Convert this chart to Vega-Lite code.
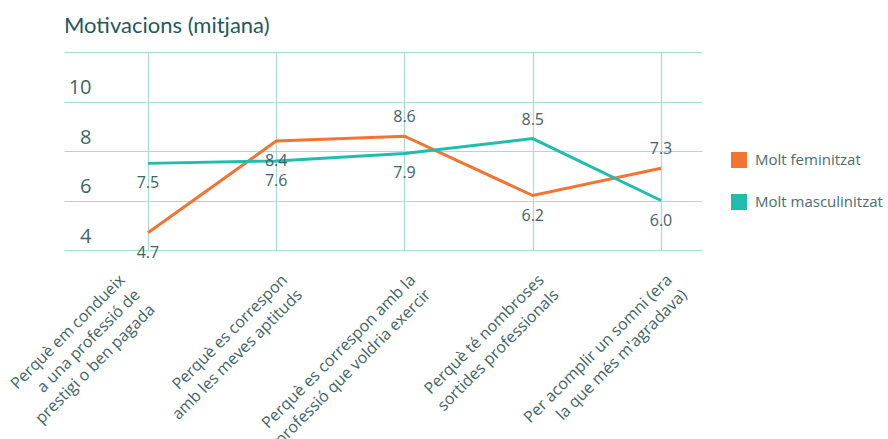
{
  "$schema": "https://vega.github.io/schema/vega-lite/v6.json",
  "width": 638,
  "height": 198,
  "autosize": {"type": "none"},
  "padding": {"left": 64, "top": 52, "right": 186, "bottom": 189},
  "title": {
    "text": "Motivacions (mitjana)",
    "anchor": "start",
    "frame": "group",
    "fontSize": 22,
    "fontWeight": "normal",
    "font": "Lato",
    "color": "#1E5A5C",
    "offset": 14
  },
  "data": {
    "values": [
      {"q": "Perquè em condueix|a una professió de|prestigi o ben pagada", "s": "Molt feminitzat", "v": 4.7},
      {"q": "Perquè es correspon|amb les meves aptituds", "s": "Molt feminitzat", "v": 8.4},
      {"q": "Perquè es correspon amb la|professió que voldria exercir", "s": "Molt feminitzat", "v": 8.6},
      {"q": "Perquè té nombroses|sortides professionals", "s": "Molt feminitzat", "v": 6.2},
      {"q": "Per acomplir un somni (era|la que més m'agradava)", "s": "Molt feminitzat", "v": 7.3},
      {"q": "Perquè em condueix|a una professió de|prestigi o ben pagada", "s": "Molt masculinitzat", "v": 7.5},
      {"q": "Perquè es correspon|amb les meves aptituds", "s": "Molt masculinitzat", "v": 7.6},
      {"q": "Perquè es correspon amb la|professió que voldria exercir", "s": "Molt masculinitzat", "v": 7.9},
      {"q": "Perquè té nombroses|sortides professionals", "s": "Molt masculinitzat", "v": 8.5},
      {"q": "Per acomplir un somni (era|la que més m'agradava)", "s": "Molt masculinitzat", "v": 6.0}
    ]
  },
  "encoding": {
    "x": {
      "field": "q",
      "type": "ordinal",
      "sort": null,
      "scale": {"type": "point", "padding": 0.487, "align": 0.672},
      "axis": {
        "title": null,
        "grid": true,
        "gridColor": "#A6DCD4",
        "gridWidth": 1.2,
        "domain": false,
        "ticks": false,
        "labelAngle": -45,
        "labelAlign": "right",
        "labelBaseline": "middle",
        "labelPadding": 27,
        "labelOffset": {"condition": {"test": "indexof(datum.value, 'condueix') >= 0", "value": -26}, "value": 8},
        "labelFontSize": 16,
        "labelFont": "Open Sans",
        "labelColor": "#3F6467",
        "labelLineHeight": 21,
        "labelExpr": "split(datum.label, '|')",
        "labelLimit": 400
      }
    },
    "y": {
      "field": "v",
      "type": "quantitative",
      "scale": {"domain": [4, 12], "nice": false, "zero": false},
      "axis": {
        "title": null,
        "values": [4, 6, 8, 10, 12],
        "grid": true,
        "gridColor": "#A6DCD4",
        "gridWidth": 1.2,
        "domain": false,
        "ticks": false,
        "labelAlign": "right",
        "labelBaseline": "middle",
        "labelPadding": -27,
        "labelOffset": -14,
        "labelFontSize": 20,
        "labelFont": "Open Sans",
        "labelColor": "#3F6467",
        "labelExpr": "datum.value == 12 ? '' : datum.label"
      }
    },
    "color": {
      "field": "s",
      "type": "nominal",
      "scale": {"domain": ["Molt feminitzat", "Molt masculinitzat"], "range": ["#F37331", "#20BDAE"]},
      "legend": {
        "title": null,
        "orient": "none",
        "legendX": 667,
        "legendY": 100,
        "symbolType": "square",
        "symbolSize": 256,
        "symbolStrokeWidth": 0,
        "symbolOpacity": 1,
        "labelFontSize": 15,
        "labelFont": "Open Sans",
        "labelColor": "#4A6D70",
        "labelOffset": 8,
        "rowPadding": 26,
        "encode": {
          "symbols": {"update": {"fill": {"scale": "color", "field": "value"}, "fillOpacity": {"value": 1}}}
        }
      }
    }
  },
  "layer": [
    {"mark": {"type": "line", "strokeWidth": 3}},
    {
      "transform": [{"filter": "(datum.s == 'Molt feminitzat' && (datum.v == 8.6 || datum.v == 7.3)) || (datum.s == 'Molt masculinitzat' && datum.v == 8.5)"}],
      "mark": {"type": "text", "dy": -19, "fontSize": 16, "font": "Open Sans", "color": "#3F6467"},
      "encoding": {"text": {"field": "v", "type": "quantitative", "format": ".1f"}, "color": {"value": "#3F6467"}}
    },
    {
      "transform": [{"filter": "!((datum.s == 'Molt feminitzat' && (datum.v == 8.6 || datum.v == 7.3)) || (datum.s == 'Molt masculinitzat' && datum.v == 8.5))"}],
      "mark": {"type": "text", "dy": 20, "fontSize": 16, "font": "Open Sans", "color": "#3F6467"},
      "encoding": {"text": {"field": "v", "type": "quantitative", "format": ".1f"}, "color": {"value": "#3F6467"}}
    }
  ],
  "config": {"view": {"stroke": null}}
}
